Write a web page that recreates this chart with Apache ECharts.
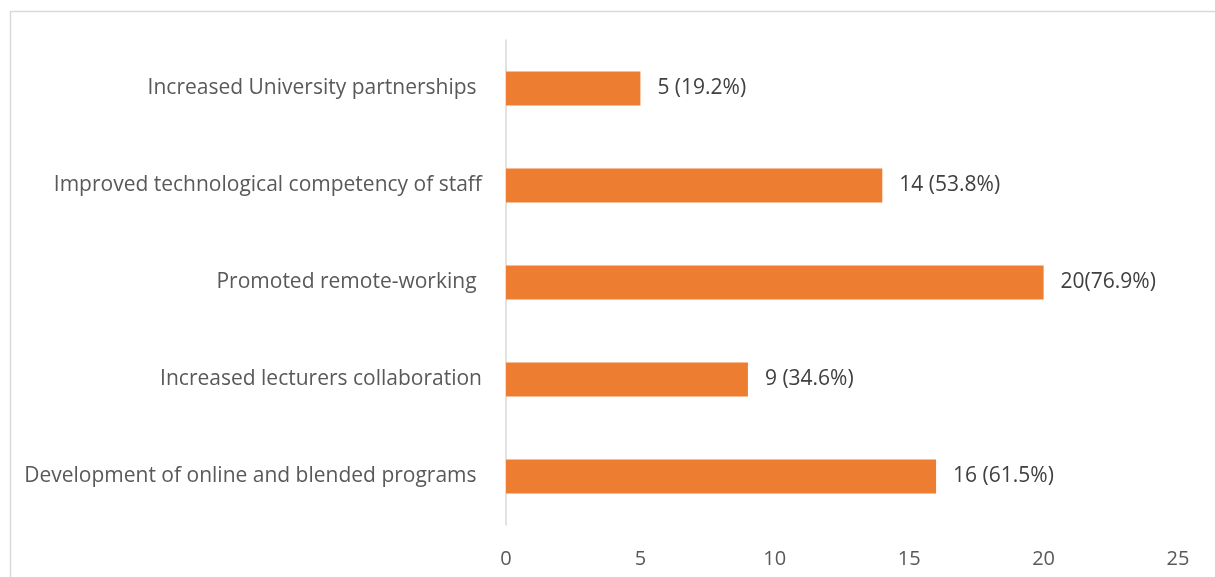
<!DOCTYPE html>
<html>
<head>
<meta charset="utf-8">
<script src="https://cdn.jsdelivr.net/npm/echarts@6/dist/echarts.min.js"></script>
<style>
  html, body { margin: 0; padding: 0; background: #fff; }
  #chart { width: 1215px; height: 577px; }
</style>
</head>
<body>
<div id="chart"></div>
<script>
// categories listed bottom to top, as the category axis draws them
var categories = [
  'Development of online and blended programs ',
  'Increased lecturers collaboration',
  'Promoted remote-working ',
  'Improved technological competency of staff',
  'Increased University partnerships '
]
var counts = [16, 9, 20, 14, 5]
var valueLabels = ['16 (61.5%)', '9 (34.6%)', '20(76.9%)', '14 (53.8%)', '5 (19.2%)']
var xTicks = [0, 5, 10, 15, 20, 25]

var myChart = echarts.init(document.getElementById('chart'))
var font = 'Open Sans'

var option = {
  animation: false,
  backgroundColor: '#fff',
  graphic: [{
    type: 'rect',
    shape: { x: 10.5, y: 11.5, width: 1300, height: 700 },
    style: { fill: 'none', stroke: '#d9d9d9', lineWidth: 1.5 },
    silent: true
  }],
  grid: { left: 506, right: 37, top: 40, bottom: 52 },
  xAxis: {
    type: 'value',
    min: xTicks[0],
    max: xTicks[xTicks.length - 1],
    interval: 5,
    axisLine: { show: false },
    axisTick: { show: false },
    splitLine: { show: false },
    axisLabel: {
      color: '#595959',
      fontFamily: font,
      fontSize: 20,
      margin: 24
    }
  },
  yAxis: {
    type: 'category',
    data: categories,
    axisLine: { show: true, lineStyle: { color: '#d9d9d9', width: 1.5 } },
    axisTick: { show: false },
    axisLabel: {
      color: '#595959',
      fontFamily: font,
      fontSize: 21,
      margin: 24
    }
  },
  series: [{
    type: 'bar',
    data: counts,
    barWidth: 34,
    itemStyle: { color: '#ed7d31' },
    label: {
      show: true,
      position: 'right',
      distance: 17,
      color: '#404040',
      fontFamily: font,
      fontSize: 21,
      formatter: function (p) { return valueLabels[p.dataIndex] }
    }
  }]
}

myChart.setOption(option)
window.addEventListener('resize', function () {
  myChart.resize()
})
</script>
</body>
</html>
